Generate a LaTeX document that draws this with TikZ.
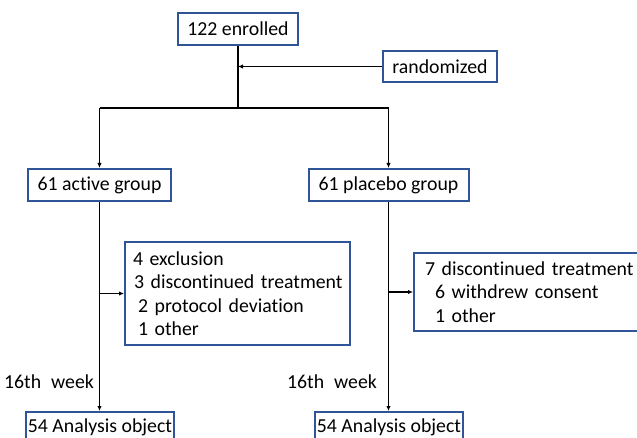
\documentclass[tikz,border=0pt]{standalone}
\usepackage{fontspec}
\setmainfont{Carlito}[Ligatures={NoCommon}]
\usetikzlibrary{arrows.meta}
\definecolor{boxblue}{RGB}{47,85,151}
\begin{document}
\begin{tikzpicture}[x=1pt,y=-1pt,
  font=\fontsize{19.8}{23.5}\selectfont,
  box/.style={draw=boxblue,line width=2pt,inner sep=0pt,align=center},
  listbox/.style={draw=boxblue,line width=2pt,inner ysep=0pt,align=left},
  conn/.style={line width=1.2pt},
  arr/.style={conn,-{Latex[length=5pt,width=4.5pt]}},
  lbl/.style={inner sep=0pt}]
\useasboundingbox (0,0) rectangle (637,438);
\clip (0,0) rectangle (637,438);
\node[box,minimum width=120pt,minimum height=32pt] (enr) at (238,29) {122 enrolled};
\node[box,minimum width=114pt,minimum height=31pt] (rnd) at (440,66.5) {randomized};
\node[box,minimum width=143pt,minimum height=32pt] (act) at (99.5,185) {61 active group};
\node[box,minimum width=160pt,minimum height=32pt] (pla) at (388.5,185) {61 placebo group};
\node[listbox,inner xsep=8pt,text width=209pt,minimum height=103pt] (exa) at (237.5,293.5)
  {\mbox{4 exclusion}\\\mbox{\hspace{1pt}3 discontinued treatment}\\\mbox{\hspace{5pt}2 protocol deviation}\\\mbox{\hspace{5pt}1 other}};
\node[listbox,inner xsep=11pt,text width=224pt,minimum height=78pt] (exp) at (537,292)
  {\mbox{7 discontinued treatment}\\\mbox{\hspace{10pt}6 withdrew consent}\\\mbox{\hspace{10pt}1 other}};
\node[box,minimum width=148pt,minimum height=30pt] (ana) at (100,427) {54 Analysis object};
\node[box,minimum width=148pt,minimum height=30pt] (anp) at (389,427) {54 Analysis object};
\node[lbl] (wka) at (49,382) {16th\enspace week};
\node[lbl] (wkp) at (332,382) {16th\enspace week};
\coordinate (split) at (238,108);
\coordinate (sl) at (99.5,108);
\coordinate (sr) at (388.5,108);
\coordinate (ra) at (238,66.5);
\coordinate (ba) at (99.5,293.5);
\coordinate (bp) at (388.5,292);
\draw[conn] (enr.south) -- (split);
\draw[arr] (rnd.west) -- (ra);
\draw[conn] (sl) -- (sr);
\draw[arr] (sl) -- (act.north);
\draw[arr] (sr) -- (pla.north);
\draw[arr] (act.south) -- (act.south |- ana.north);
\draw[arr] (pla.south) -- (pla.south |- anp.north);
\draw[arr] (ba) -- (exa.west |- ba);
\draw[arr] (bp) -- (exp.west |- bp);
\end{tikzpicture}
\end{document}
